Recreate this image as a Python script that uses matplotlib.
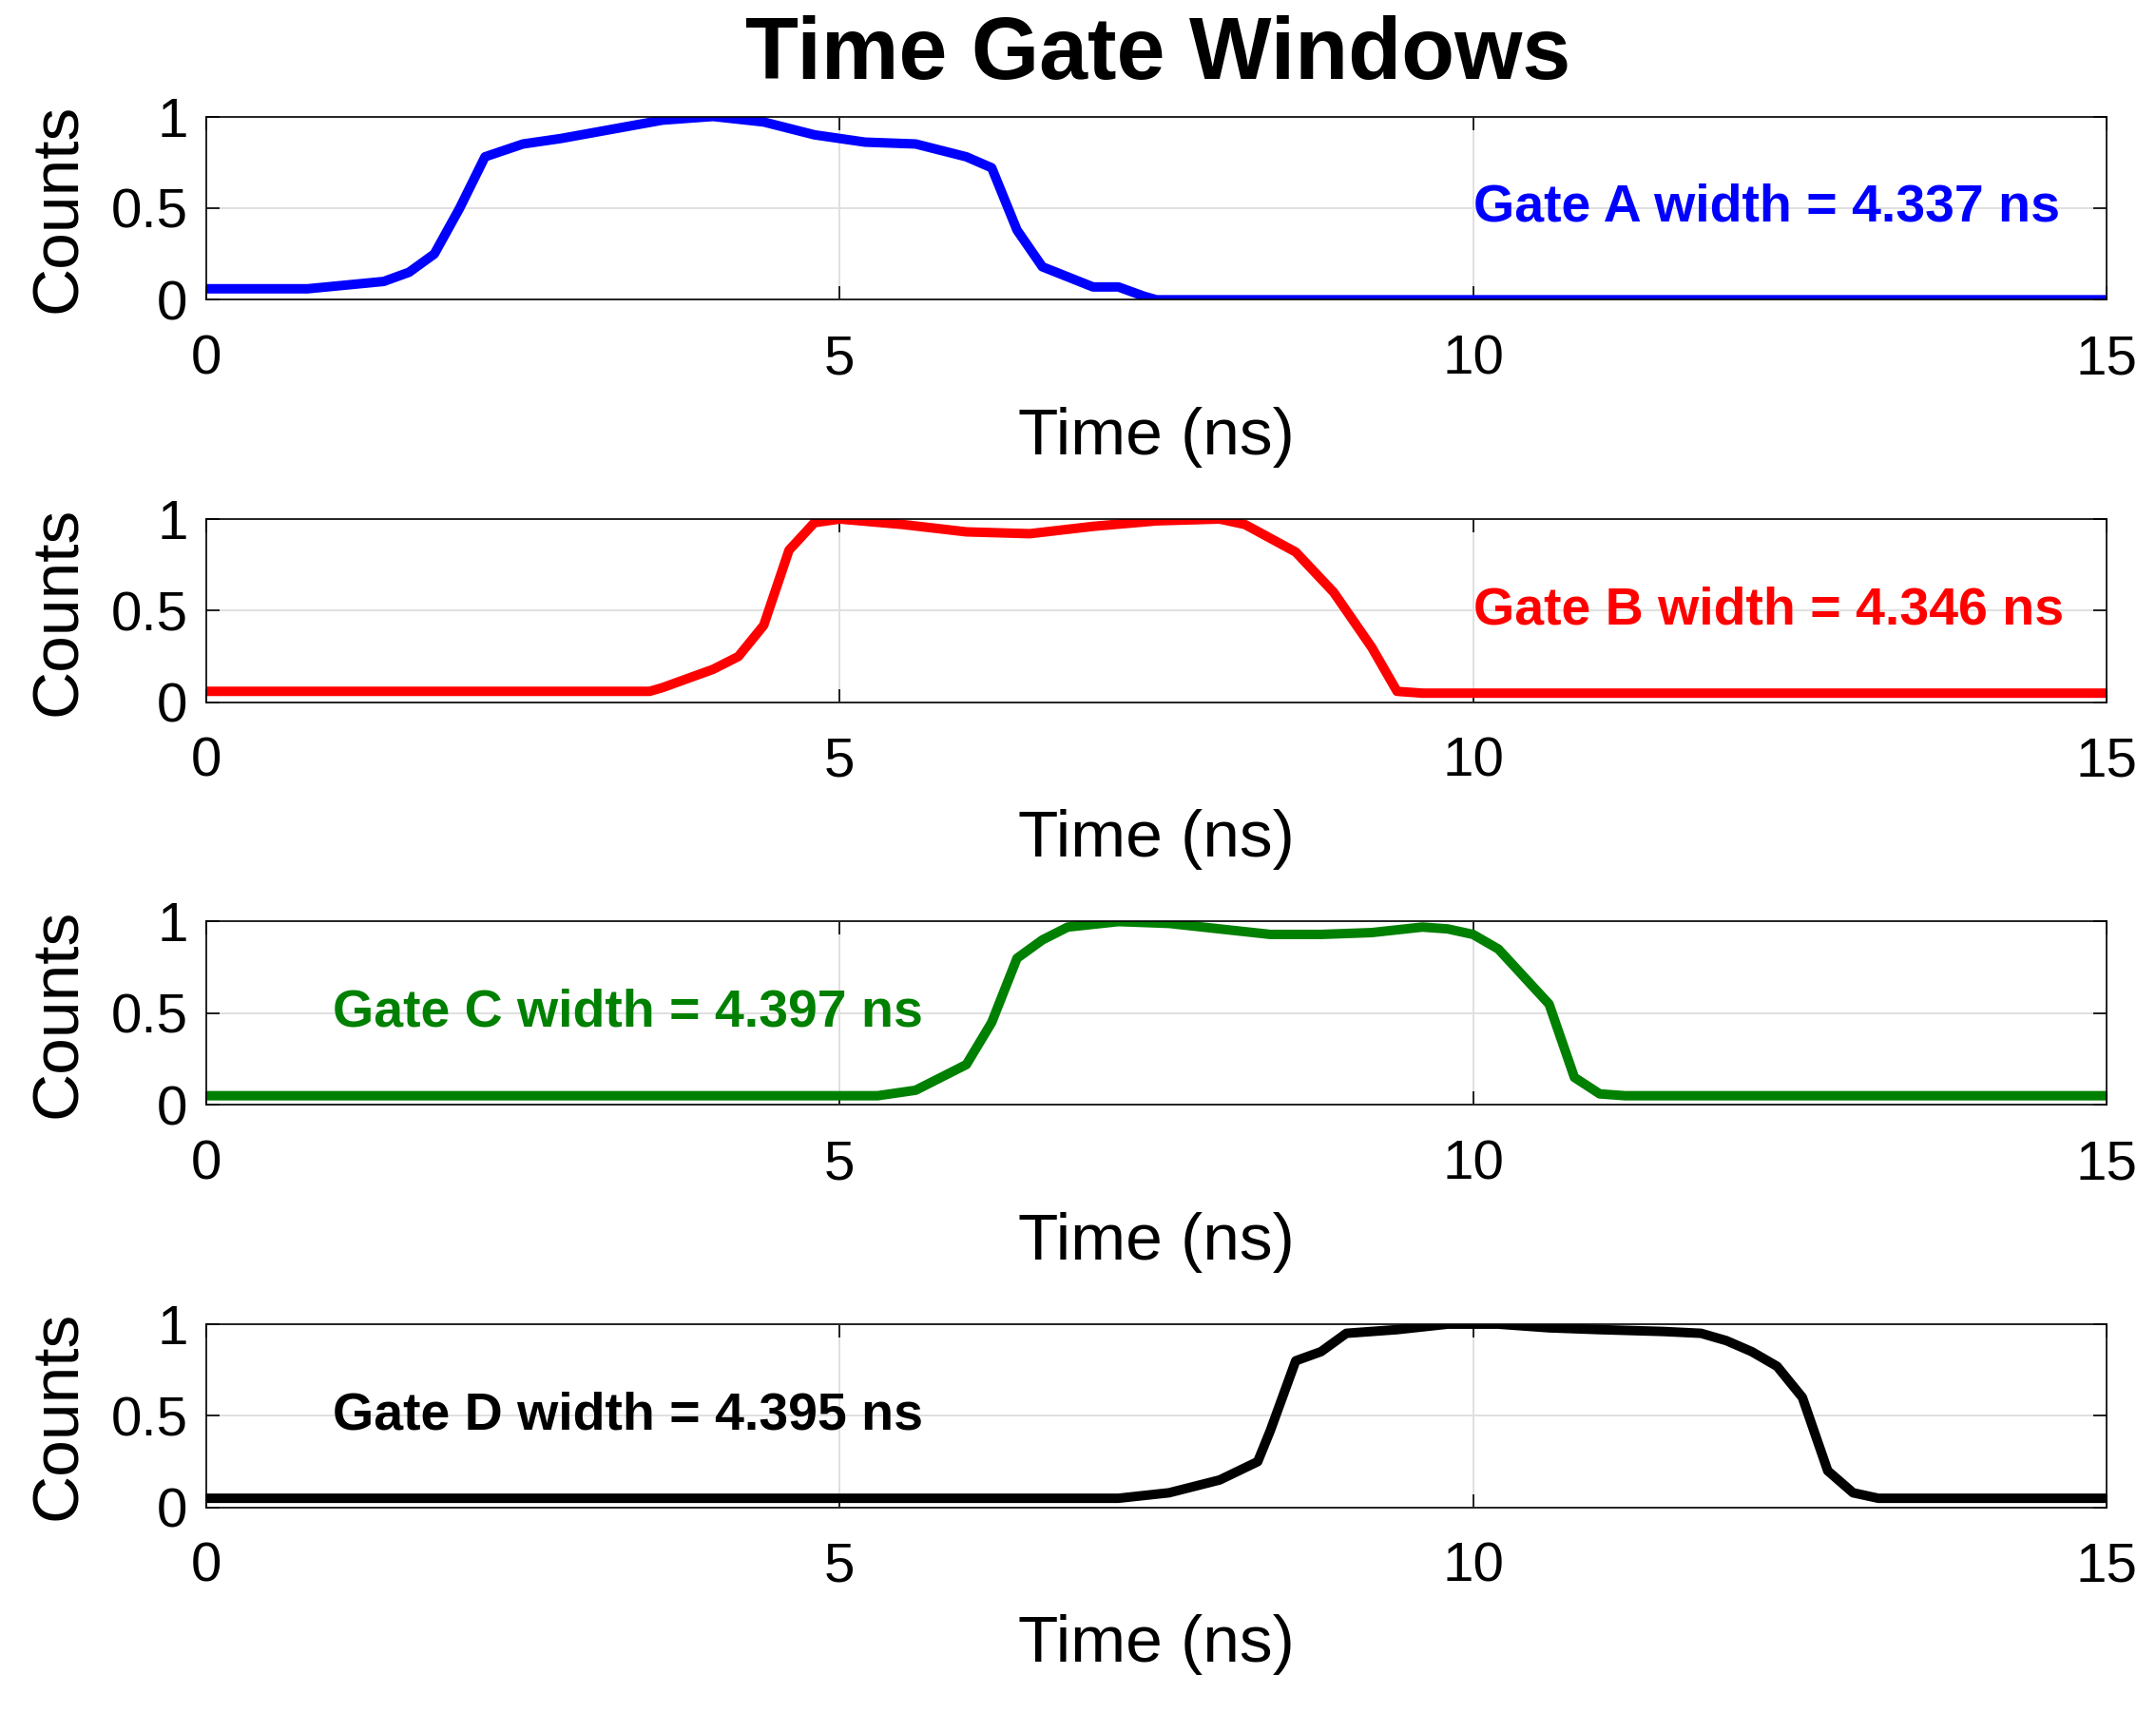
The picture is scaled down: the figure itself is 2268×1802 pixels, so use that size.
import matplotlib
matplotlib.use("Agg")
import matplotlib.pyplot as plt

plt.rcParams['font.family'] = ['Liberation Sans', 'DejaVu Sans']

xa = [0, 0.8, 1.4, 1.6, 1.8, 2.0, 2.2, 2.5, 2.8, 3.2, 3.6, 4.0, 4.4, 4.8, 5.2, 5.6, 6.0, 6.2, 6.4, 6.6, 7.0, 7.2, 7.4, 7.5, 15]
ya = [0.06, 0.06, 0.1, 0.15, 0.25, 0.5, 0.78, 0.85, 0.88, 0.93, 0.98, 1.0, 0.97, 0.9, 0.86, 0.85, 0.78, 0.72, 0.38, 0.18, 0.07, 0.07, 0.02, 0.0, 0.0]
xb = [0, 3.5, 3.6, 4.0, 4.2, 4.4, 4.6, 4.8, 5.0, 5.5, 6.0, 6.5, 7.0, 7.5, 8.0, 8.2, 8.6, 8.9, 9.2, 9.4, 9.6, 15]
yb = [0.06, 0.06, 0.08, 0.18, 0.25, 0.42, 0.83, 0.98, 1.0, 0.97, 0.93, 0.92, 0.96, 0.99, 1.0, 0.97, 0.82, 0.6, 0.3, 0.06, 0.05, 0.05]
xc = [0, 5.3, 5.6, 5.8, 6.0, 6.2, 6.4, 6.6, 6.8, 7.2, 7.6, 8.0, 8.4, 8.8, 9.2, 9.6, 9.8, 10.0, 10.2, 10.6, 10.8, 11.0, 11.2, 15]
yc = [0.05, 0.05, 0.08, 0.15, 0.22, 0.45, 0.8, 0.9, 0.97, 1.0, 0.99, 0.96, 0.93, 0.93, 0.94, 0.97, 0.96, 0.93, 0.85, 0.55, 0.15, 0.06, 0.05, 0.05]
xd = [0, 7.2, 7.6, 8.0, 8.3, 8.4, 8.6, 8.8, 9.0, 9.4, 9.8, 10.2, 10.6, 11.0, 11.5, 11.8, 12.0, 12.2, 12.4, 12.6, 12.8, 13.0, 13.2, 15]
yd = [0.05, 0.05, 0.08, 0.15, 0.25, 0.42, 0.8, 0.85, 0.95, 0.97, 1.0, 1.0, 0.98, 0.97, 0.96, 0.95, 0.91, 0.85, 0.77, 0.6, 0.2, 0.08, 0.05, 0.05]

labels = ["Gate A width = 4.337 ns", "Gate B width = 4.346 ns",
          "Gate C width = 4.397 ns", "Gate D width = 4.395 ns"]
colors = ["#0000ff", "#ff0000", "#008000", "#000000"]
label_x = [10.0, 10.0, 1.0, 1.0]
xs = [xa, xb, xc, xd]
ys = [ya, yb, yc, yd]

fig = plt.figure(figsize=(11.34, 9.01), dpi=200)
bottoms = [0.825, 0.590, 0.355, 0.120]
for i in range(4):
    ax = fig.add_axes([0.0957, bottoms[i], 0.8813, 0.107])
    ax.plot(xs[i], ys[i], color=colors[i], lw=3.6)
    ax.set_xlim(0, 15)
    ax.set_ylim(0, 1)
    ax.set_xticks([0, 5, 10, 15])
    ax.set_yticks([0, 0.5, 1])
    ax.set_yticklabels(["0", "0.5", "1"])
    ax.grid(True, color="#e0e0e0", lw=0.7)
    ax.tick_params(direction="in", labelsize=21, top=True, right=True, length=5, width=0.6)
    ax.tick_params(axis="x", pad=13)
    ax.tick_params(axis="y", pad=7)
    for s in ax.spines.values():
        s.set_linewidth(0.6)
    ax.set_xlabel("Time (ns)", fontsize=25, labelpad=8)
    ax.set_ylabel("Counts", fontsize=25, labelpad=8)
    ax.text(label_x[i], 0.5, labels[i], color=colors[i], fontsize=20,
            fontweight="bold", va="center", ha="left")

fig.text(0.537, 0.967, "Time Gate Windows", ha="center", va="center",
         fontsize=33, fontweight="bold")
fig.savefig("out.png", dpi=200)
